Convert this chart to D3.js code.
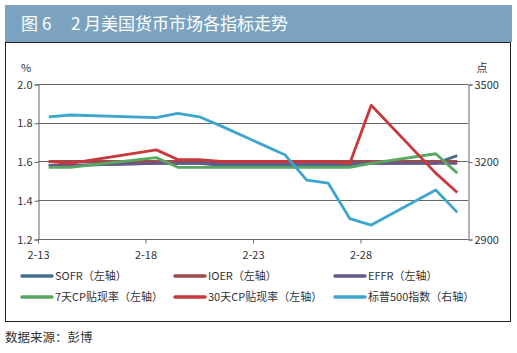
<!DOCTYPE html>
<html>
<head>
<meta charset="utf-8">
<script src="https://cdn.jsdelivr.net/npm/d3@7"></script>
<style>
  body { margin: 0; background: #fff; }
  text { font-family: "Noto Sans CJK SC", "Noto Sans", sans-serif; }
</style>
</head>
<body>
<div id="chart"></div>
<script>
// trading days shown
var dates = ["2020-02-13", "2020-02-14", "2020-02-18", "2020-02-19", "2020-02-20", "2020-02-21",
             "2020-02-24", "2020-02-25", "2020-02-26", "2020-02-27", "2020-02-28", "2020-03-02", "2020-03-03"];
var tickDates = ["2020-02-13", "2020-02-18", "2020-02-23", "2020-02-28"];
var tickLabels = ["2-13", "2-18", "2-23", "2-28"];

var sofr  = [1.58, 1.58, 1.59, 1.59, 1.59, 1.58, 1.58, 1.58, 1.58, 1.58, 1.59, 1.59, 1.63];
var ioer  = [1.60, 1.60, 1.60, 1.60, 1.60, 1.60, 1.60, 1.60, 1.60, 1.60, 1.60, 1.60, 1.60];
var effr  = [1.58, 1.58, 1.59, 1.59, 1.59, 1.59, 1.59, 1.59, 1.59, 1.59, 1.59, 1.59, 1.59];
var cp7   = [1.57, 1.57, 1.62, 1.57, 1.57, 1.57, 1.57, 1.57, 1.57, 1.57, 1.59, 1.64, 1.54];
var cp30  = [1.60, 1.59, 1.66, 1.61, 1.61, 1.60, 1.60, 1.60, 1.60, 1.59, 1.89, 1.54, 1.44];
var spx   = [3373, 3380, 3370, 3386, 3373, 3338, 3225, 3128, 3116, 2979, 2954, 3090, 3003];

var leftTicks = [1.2, 1.4, 1.6, 1.8, 2.0];
var rightTicks = [2900, 3200, 3500];

var series = [
  {name: "SOFR（左轴）", values: sofr, color: "#466f8e", axis: "left"},
  {name: "IOER（左轴）", values: ioer, color: "#9c4a4c", axis: "left"},
  {name: "EFFR（左轴）", values: effr, color: "#67588a", axis: "left"},
  {name: "7天CP贴现率（左轴）", values: cp7, color: "#58a862", axis: "left"},
  {name: "30天CP贴现率（左轴）", values: cp30, color: "#c9383a", axis: "left"},
  {name: "标普500指数（右轴）", values: spx, color: "#3ea5cf", axis: "right"}
];

var W = 517, H = 353;
var plot = {left: 38, right: 468, top: 84, bottom: 239};

var svg = d3.select("#chart").append("svg")
    .attr("width", W)
    .attr("height", H);

// title bar
svg.append("rect")
    .attr("x", 5).attr("y", 5)
    .attr("width", 507).attr("height", 37)
    .attr("fill", "#7ba3bf");
var title = svg.append("text")
    .attr("y", 30)
    .attr("fill", "#fff")
    .attr("font-size", 17);
title.append("tspan").attr("x", 21).text("图");
title.append("tspan").attr("x", 42).text("6");
title.append("tspan").attr("x", 71).text("2");
title.append("tspan").attr("x", 84).text("月美国货币市场各指标走势");

// frame
svg.append("rect")
    .attr("x", 5.5).attr("y", 42.5)
    .attr("width", 505).attr("height", 279)
    .attr("fill", "none")
    .attr("stroke", "#222")
    .attr("stroke-width", 1);

var parse = d3.utcParse("%Y-%m-%d");
var x = d3.scaleUtc()
    .domain([parse("2020-02-13"), parse("2020-03-04")])
    .range([plot.left, plot.right]);
var yL = d3.scaleLinear().domain([1.2, 2.0]).range([plot.bottom, plot.top]);
var yR = d3.scaleLinear().domain([2900, 3500]).range([plot.bottom, plot.top]);

// points sit in the middle of the day
function xPos(d) { return x(d3.utcHour.offset(parse(d), 12)); }

// gridlines
svg.append("g")
  .selectAll("line")
  .data(leftTicks)
  .join("line")
    .attr("x1", plot.left).attr("x2", plot.right)
    .attr("y1", function(d) { return Math.round(yL(d)) + 0.5; })
    .attr("y2", function(d) { return Math.round(yL(d)) + 0.5; })
    .attr("stroke", "#666")
    .attr("stroke-width", 1);

// left axis
var gl = svg.append("g")
    .attr("transform", "translate(" + (plot.left + 0.5) + ",0.5)")
    .call(d3.axisLeft(yL).tickValues(leftTicks).tickFormat(d3.format(".1f")).tickSize(4).tickPadding(2));
gl.select(".domain").attr("stroke", "#666");
gl.selectAll(".tick line").attr("stroke", "#666");
gl.selectAll("text").attr("font-size", 11).attr("fill", "#333");

// right axis
var gr = svg.append("g")
    .attr("transform", "translate(" + (plot.right + 0.5) + ",0.5)")
    .call(d3.axisRight(yR).tickValues(rightTicks).tickFormat(d3.format("d")).tickSize(4).tickPadding(2));
gr.select(".domain").attr("stroke", "#666");
gr.selectAll(".tick line").attr("stroke", "#666");
gr.selectAll("text").attr("font-size", 11).attr("fill", "#333");

// bottom axis
var gb = svg.append("g")
    .attr("transform", "translate(0," + (plot.bottom + 0.5) + ")")
    .call(d3.axisBottom(x)
      .tickValues(tickDates.map(parse))
      .tickFormat(function(d, i) { return tickLabels[i]; })
      .tickSize(4).tickPadding(8));
gb.select(".domain").remove();
gb.selectAll(".tick line").attr("stroke", "#666");
gb.selectAll("text").attr("font-size", 11).attr("fill", "#333");

// unit labels
svg.append("text").attr("x", 26).attr("y", 72)
    .attr("text-anchor", "middle").attr("font-size", 11).attr("fill", "#333").text("%");
svg.append("text").attr("x", 482).attr("y", 72)
    .attr("text-anchor", "middle").attr("font-size", 11).attr("fill", "#333").text("点");

// lines
series.forEach(function(s) {
  var y = s.axis == "left" ? yL : yR;
  var line = d3.line()
      .x(function(d, i) { return xPos(dates[i]); })
      .y(function(d) { return y(d); });
  svg.append("path")
      .datum(s.values)
      .attr("d", line)
      .attr("fill", "none")
      .attr("stroke", s.color)
      .attr("stroke-width", 2.8)
      .attr("stroke-linejoin", "round");
});

// legend
var legX = [22, 175, 335], legY = [276, 297];
var leg = svg.append("g")
  .selectAll("g")
  .data(series)
  .join("g")
    .attr("transform", function(d, i) { return "translate(" + legX[i % 3] + "," + legY[Math.floor(i / 3)] + ")"; });
leg.append("line")
    .attr("x1", 0).attr("x2", 30)
    .attr("stroke", function(d) { return d.color; })
    .attr("stroke-width", 3.5)
    .attr("stroke-linecap", "round");
leg.append("text")
    .attr("x", 33).attr("y", 4)
    .attr("font-size", 11)
    .attr("fill", "#333")
    .text(function(d) { return d.name; });

// source
svg.append("text")
    .attr("x", 5).attr("y", 342)
    .attr("font-size", 12.5)
    .attr("fill", "#333")
    .text("数据来源：彭博");
</script>
</body>
</html>
